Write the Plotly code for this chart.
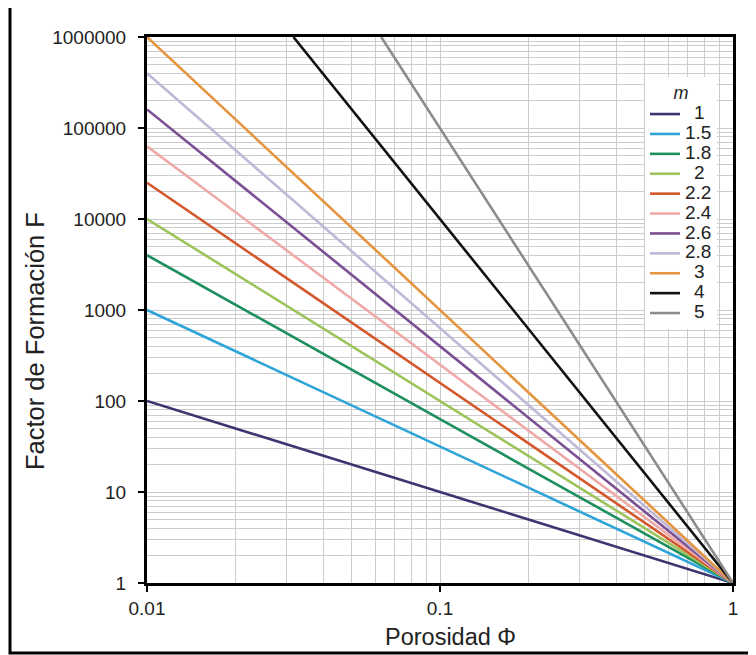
import plotly.graph_objects as go

# m values (legend labels) and colours
m_labels = ["1", "1.5", "1.8", "2", "2.2", "2.4", "2.6", "2.8", "3", "4", "5"]
colors = ["#3d3470", "#2fa4d9", "#1e8f5e", "#9dc35b", "#d4572c", "#efa9a6",
          "#7b4f93", "#bfb8d6", "#e5953f", "#111111", "#8c8c8c"]

# start points of each straight line, all end at (1, 1)
phi_start = [0.01, 0.01, 0.01, 0.01, 0.01, 0.01, 0.01, 0.01, 0.01, 0.0316, 0.063]
F_start = [100, 1000, 4000, 10000, 25000, 63000, 160000, 400000, 1000000, 1000000, 1000000]
phi_end = 1
F_end = 1

y_tickvals = [1, 10, 100, 1000, 10000, 100000, 1000000]
y_ticktext = ["1", "10", "100", "1000", "10000", "100000", "1000000"]
x_tickvals = [0.01, 0.1, 1]
x_ticktext = ["0.01", "0.1", "1"]

FONT = "Liberation Sans, Arial, sans-serif"

# page body has an 8px default margin: compensate in figure geometry
W, H = 748, 647
L, T = 147 - 8, 37 - 8
R = W - (733 - 8)
B = H - (583 - 8)
PW = W - L - R
PH = H - T - B


def px(x):
    return (x - 147) / PW


def py(y):
    return (583 - y) / PH


def pad(lbl):
    txt = ("\u00a0\u2009" + lbl) if len(lbl) == 1 else lbl
    return "<span style='font-size:19px'>" + txt + "</span>"


fig = go.Figure()
for lbl, c, x0, y0 in zip(m_labels, colors, phi_start, F_start):
    fig.add_trace(go.Scatter(x=[x0, phi_end], y=[y0, F_end], mode="lines",
                             name=pad(lbl), line=dict(color=c, width=2.6)))

grid = "#cccccc"
fig.update_xaxes(type="log", range=[-2, 0], tickvals=x_tickvals, ticktext=x_ticktext,
                 showline=True, linecolor="black", linewidth=3, mirror=True,
                 ticks="outside", ticklen=6, tickwidth=2, tickcolor="black",
                 showgrid=True, gridcolor=grid, gridwidth=1,
                 minor=dict(dtick="D1", showgrid=True, gridcolor=grid, gridwidth=1, ticks=""),
                 tickfont=dict(family=FONT, size=19, color="#222"),
                 zeroline=False)
fig.update_yaxes(type="log", range=[0, 6], tickvals=y_tickvals, ticktext=y_ticktext,
                 showline=True, linecolor="black", linewidth=3, mirror=True,
                 ticks="outside", ticklen=6, tickwidth=2, tickcolor="black",
                 ticklabelstandoff=8,
                 showgrid=True, gridcolor=grid, gridwidth=1,
                 minor=dict(dtick="D1", showgrid=True, gridcolor=grid, gridwidth=1, ticks=""),
                 tickfont=dict(family=FONT, size=19, color="#222"),
                 zeroline=False)

# axis titles
fig.add_annotation(text="Factor de Formación F", xref="paper", yref="paper",
                   x=px(35), y=py(341), textangle=-90, showarrow=False,
                   xanchor="center", yanchor="middle",
                   font=dict(family=FONT, size=25.5, color="#222"))
fig.add_annotation(text="Porosidad Φ", xref="paper", yref="paper",
                   x=px(450), y=py(637), showarrow=False,
                   xanchor="center", yanchor="middle",
                   font=dict(family=FONT, size=23.5, color="#222"))

# outer frame
fig.add_shape(type="rect", xref="paper", yref="paper",
              x0=px(10), x1=px(752), y0=py(653), y1=py(3),
              line=dict(color="black", width=3), fillcolor="rgba(0,0,0,0)", layer="above")

fig.update_layout(
    width=W, height=H,
    margin=dict(l=L, r=R, t=T, b=B, autoexpand=False),
    paper_bgcolor="white", plot_bgcolor="white",
    showlegend=True,
    legend=dict(x=px(645), y=py(77), xanchor="left", yanchor="top",
                bgcolor="white", borderwidth=0,
                font=dict(family=FONT, size=13, color="#222"),
                itemwidth=30, tracegroupgap=0,
                title=dict(text="<i><span style='font-size:18px'>m</span></i>", side="top center",
                           font=dict(family=FONT, size=17, color="#222"))),
)

fig.write_html("out.html")
